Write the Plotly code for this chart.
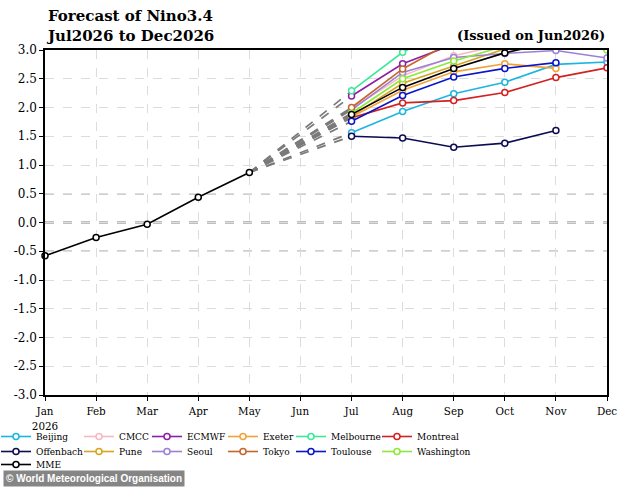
import plotly.graph_objects as go

months = ["Jan<br>2026", "Feb", "Mar", "Apr", "May", "Jun", "Jul", "Aug", "Sep", "Oct", "Nov", "Dec"]
obs_x = [0, 1, 2, 3, 4]
obs_vals = [-0.58, -0.26, -0.03, 0.44, 0.87]

fc_x = [6, 7, 8, 9, 10, 11]
models = ["Beijing", "CMCC", "ECMWF", "Exeter", "Melbourne", "Montreal",
          "Offenbach", "Pune", "Seoul", "Tokyo", "Toulouse", "Washington", "MME"]
colors = ["#1cb5e0", "#f5b8c4", "#8b1fa8", "#f2a236", "#3de89a", "#d42020",
          "#0c0c52", "#d4a520", "#9b80d6", "#c8642a", "#0a14c8", "#8ee83c", "#000000"]
beijing    = [1.56, 1.93, 2.24, 2.44, 2.75, 2.79]
cmcc       = [1.98, 2.55, 2.90, 3.10, 3.20, 3.30]
ecmwf      = [2.20, 2.76, 3.10, 3.30, 3.40, 3.50]
exeter     = [1.84, 2.30, 2.62, 2.76, 2.68, None]
melbourne  = [2.29, 2.96, 3.40, 3.60, 3.70, 3.80]
montreal   = [1.82, 2.08, 2.12, 2.26, 2.52, 2.69]
offenbach  = [1.50, 1.47, 1.31, 1.38, 1.60, None]
pune       = [1.85, 2.42, 2.72, 3.02, 3.20, 3.30]
seoul      = [1.96, 2.61, 2.87, 2.94, 2.99, 2.86]
tokyo      = [2.00, 2.67, 3.16, 3.40, 3.50, 3.60]
toulouse   = [1.76, 2.21, 2.53, 2.68, 2.78, None]
washington = [1.90, 2.50, 2.81, 3.07, 3.12, 3.00]
mme        = [1.88, 2.35, 2.68, 2.95, 3.15, 3.20]
series = [beijing, cmcc, ecmwf, exeter, melbourne, montreal,
          offenbach, pune, seoul, tokyo, toulouse, washington, mme]

W, H = 634, 487


def px(x):
    return x / W


def py(y):
    return 1 - y / H


# legend grid: 6 columns (text left edge in px), 3 rows (top in px)
legend_col_text_x = [36, 119, 187, 263, 331, 417]
legend_row_top = [422, 437, 450]

fig = go.Figure()

# dashed connectors from last observation to first forecast month
for vals in series:
    fig.add_trace(go.Scatter(
        x=[obs_x[-1], fc_x[0]], y=[obs_vals[-1], vals[0]], mode="lines",
        line=dict(color="#7a7a7a", width=1.7, dash="dash"),
        showlegend=False, hoverinfo="skip"))

fig.add_trace(go.Scatter(
    x=obs_x, y=obs_vals, mode="lines+markers", showlegend=False,
    line=dict(color="black", width=1.6),
    marker=dict(symbol="circle", size=6, color="white", line=dict(color="black", width=1.5)),
    cliponaxis=False))

serif = "DejaVu Serif"
cond = "DejaVu Serif Condensed"
legends = {}
for i, (name, col, vals) in enumerate(zip(models, colors, series)):
    lg = "legend" if i == 0 else "legend%d" % (i + 1)
    r, c = divmod(i, 6)
    legends[lg] = dict(orientation="h", x=px(legend_col_text_x[c] - 40), y=py(legend_row_top[r]),
                       xanchor="left", yanchor="top", itemwidth=30,
                       font=dict(family=cond, size=10), bgcolor="rgba(0,0,0,0)")
    fig.add_trace(go.Scatter(
        x=fc_x, y=vals, mode="lines+markers", name=name, legend=lg,
        line=dict(color=col, width=1.6),
        marker=dict(symbol="circle", size=6, color="white", line=dict(color=col, width=1.5))))

fig.update_layout(
    width=W, height=H,
    margin=dict(l=0, r=0, t=0, b=0, autoexpand=False),
    paper_bgcolor="white", plot_bgcolor="white",
    font=dict(family=serif, size=11, color="black"),
    showlegend=True,
    xaxis=dict(domain=[px(45), px(607)], range=[0, 11], tickvals=list(range(12)), ticktext=months,
               showgrid=True, gridcolor="#dcdcdc", griddash="dash", gridwidth=1,
               showline=True, linecolor="black", linewidth=1.5, mirror=True,
               ticks="outside", ticklen=4, tickcolor="black", zeroline=False,
               tickfont=dict(family=cond, size=11.5)),
    yaxis=dict(domain=[py(395), py(50)], range=[-3, 3], tickvals=[i * 0.5 for i in range(-6, 7)],
               ticktext=["%.1f" % (i * 0.5) for i in range(-6, 7)],
               showgrid=True, gridcolor="#dcdcdc", griddash="dash", gridwidth=1,
               showline=True, linecolor="black", linewidth=1.5, mirror=True,
               ticks="outside", ticklen=4, tickcolor="black", zeroline=False,
               tickfont=dict(family=serif, size=12)),
    shapes=[
        dict(type="line", xref="x", yref="y", x0=0, x1=11, y0=0.5, y1=0.5,
             line=dict(color="#a0a0a0", width=1.3, dash="dash"), layer="below"),
        dict(type="line", xref="x", yref="y", x0=0, x1=11, y0=-0.5, y1=-0.5,
             line=dict(color="#a0a0a0", width=1.3, dash="dash"), layer="below"),
        dict(type="line", xref="x", yref="y", x0=0, x1=11, y0=0, y1=0,
             line=dict(color="black", width=1.3, dash="dash"), layer="below"),
    ],
    annotations=[
        dict(text="<b>Forecast of Nino3.4<br>Jul2026 to Dec2026</b>", xref="paper", yref="paper",
             x=px(44), y=py(5), xanchor="left", yanchor="top", align="left", showarrow=False,
             font=dict(family=serif, size=15, color="black")),
        dict(text="<b>(Issued on Jun2026)</b>", xref="paper", yref="paper",
             x=px(607), y=py(45), xanchor="right", yanchor="bottom", align="right", showarrow=False,
             font=dict(family=serif, size=13, color="black")),
        dict(text="<b>© World Meteorological Organisation</b>", xref="paper", yref="paper",
             x=px(3), y=py(487), xanchor="left", yanchor="bottom", showarrow=False,
             bgcolor="rgba(120,120,120,0.9)", borderpad=2,
             font=dict(family="Liberation Sans", size=10, color="white")),
    ],
    **legends,
)

fig.write_html("out.html")
